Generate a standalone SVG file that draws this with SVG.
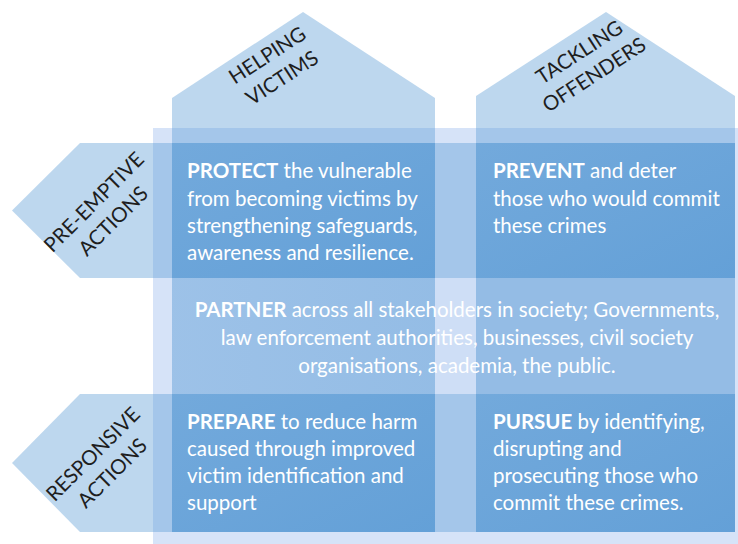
<svg xmlns="http://www.w3.org/2000/svg" width="738" height="544" viewBox="0 0 738 544">
<defs>
<style>
.band{fill:#5B9BD5;fill-opacity:0.4}
.lbl{font-family:Lato,"Open Sans","DejaVu Sans",sans-serif;font-size:20.5px;fill:#1e1e1e;text-anchor:middle}
.txt{font-family:Lato,"Open Sans","DejaVu Sans",sans-serif;font-size:20.5px;fill:#ffffff}
.b{font-weight:bold}
.mid{text-anchor:middle}
</style>
<linearGradient id="cellGrad" x1="0" y1="0" x2="1" y2="1">
<stop offset="0" stop-color="#5B9BD5" stop-opacity="0.45"/>
<stop offset="1" stop-color="#5B9BD5" stop-opacity="0.8"/>
</linearGradient>
<linearGradient id="partGrad" x1="0" y1="0" x2="1" y2="0">
<stop offset="0" stop-color="#5B9BD5" stop-opacity="0.1"/>
<stop offset="1" stop-color="#5B9BD5" stop-opacity="0.22"/>
</linearGradient>
</defs>
<g id="background"><rect x="153" y="128" width="585" height="416" fill="#D6E3F8"/></g>
<g id="col-helping-victims">
<polygon class="band" points="172,98 303,12 435,98 435,532 172,532"/>
<text class="lbl" transform="translate(275,67) rotate(-33)"><tspan x="0" y="-7">HELPING</tspan><tspan x="0" y="20">VICTIMS</tspan></text>
</g>
<g id="col-tackling-offenders">
<polygon class="band" points="476,96 606,12 735,96 735,532 476,532"/>
<text class="lbl" transform="translate(587,64) rotate(-33)"><tspan x="0" y="-7">TACKLING</tspan><tspan x="0" y="20">OFFENDERS</tspan></text>
</g>
<g id="row-pre-emptive">
<polygon class="band" points="12,210.5 80,143 735,143 735,278 80,278"/>
<text class="lbl" transform="translate(104,212) rotate(-45)"><tspan x="0" y="-7">PRE-EMPTIVE</tspan><tspan x="0" y="20">ACTIONS</tspan></text>
</g>
<g id="row-responsive">
<polygon class="band" points="12,463 80,394 735,394 735,532 80,532"/>
<text class="lbl" transform="translate(103,464) rotate(-45)"><tspan x="0" y="-7">RESPONSIVE</tspan><tspan x="0" y="20">ACTIONS</tspan></text>
</g>
<g id="partner">
<rect x="172" y="278" width="263" height="116" fill="url(#partGrad)"/>
<rect x="476" y="278" width="259" height="116" fill="#5B9BD5" fill-opacity="0.22"/>
<rect x="435" y="278" width="41" height="116" fill="#5B9BD5" fill-opacity="0.06"/>
<text class="txt mid"><tspan x="457" y="317"><tspan class="b">PARTNER</tspan> across all stakeholders in society; Governments,</tspan><tspan x="457" y="345">law enforcement authorities, businesses, civil society</tspan><tspan x="457" y="373">organisations, academia, the public.</tspan></text>
</g>
<g id="protect">
<rect x="172" y="143" width="263" height="135" fill="url(#cellGrad)"/>
<text class="txt"><tspan x="187" y="178"><tspan class="b">PROTECT</tspan> the vulnerable</tspan><tspan x="187" y="206">from becoming victims by</tspan><tspan x="187" y="233">strengthening safeguards,</tspan><tspan x="187" y="260">awareness and resilience.</tspan></text>
</g>
<g id="prevent">
<rect x="476" y="143" width="259" height="135" fill="url(#cellGrad)"/>
<text class="txt"><tspan x="493" y="178"><tspan class="b">PREVENT</tspan> and deter</tspan><tspan x="493" y="206">those who would commit</tspan><tspan x="493" y="233">these crimes</tspan></text>
</g>
<g id="prepare">
<rect x="172" y="394" width="263" height="138" fill="url(#cellGrad)"/>
<text class="txt"><tspan x="187" y="429"><tspan class="b">PREPARE</tspan> to reduce harm</tspan><tspan x="187" y="456">caused through improved</tspan><tspan x="187" y="483">victim identification and</tspan><tspan x="187" y="510">support</tspan></text>
</g>
<g id="pursue">
<rect x="476" y="394" width="259" height="138" fill="url(#cellGrad)"/>
<text class="txt"><tspan x="493" y="429"><tspan class="b">PURSUE</tspan> by identifying,</tspan><tspan x="493" y="456">disrupting and</tspan><tspan x="493" y="483">prosecuting those who</tspan><tspan x="493" y="510">commit these crimes.</tspan></text>
</g>
</svg>
